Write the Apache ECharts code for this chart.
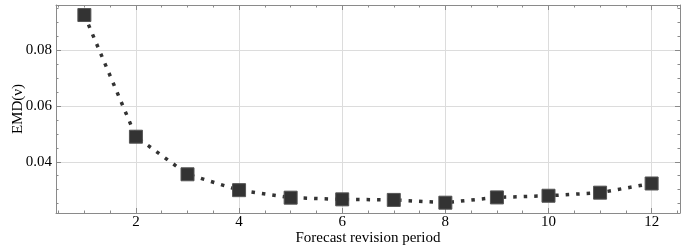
<!DOCTYPE html>
<html>
<head>
<meta charset="utf-8">
<script src="https://cdn.jsdelivr.net/npm/echarts@6/dist/echarts.min.js"></script>
<style>
  html, body { margin: 0; padding: 0; background: #fff; }
  #chart { width: 687px; height: 250px; }
</style>
</head>
<body>
<div id="chart"></div>
<script>
// forecast revision periods and EMD values
var periods = [1, 2, 3, 4, 5, 6, 7, 8, 9, 10, 11, 12];
var emd = [0.0927, 0.0490, 0.0355, 0.0298, 0.0271, 0.0265, 0.0263, 0.0253, 0.0272, 0.0278, 0.0289, 0.0322];

var xMajor = [2, 4, 6, 8, 10, 12];
var xMinor = [0.5, 1, 1.5, 2, 2.5, 3, 3.5, 4, 4.5, 5, 5.5, 6, 6.5, 7, 7.5, 8, 8.5, 9, 9.5, 10, 10.5, 11, 11.5, 12, 12.5];
var yMajor = [0.04, 0.06, 0.08];
var yMinor = [0.025, 0.03, 0.035, 0.04, 0.045, 0.05, 0.055, 0.06, 0.065, 0.07, 0.075, 0.08, 0.085, 0.09, 0.095];

var xMin = 0.45, xMax = 12.55;
var yMin = 0.0216, yMax = 0.0963;

var font = "Liberation Serif";
var frameColor = "#8a8a8a";

function tickAxis(pos, min, max, ticks, len, showLine) {
  return {
    type: "value",
    position: pos,
    min: min,
    max: max,
    axisLine: { show: showLine, lineStyle: { color: frameColor, width: 1 } },
    axisTick: { show: true, inside: true, length: len, customValues: ticks,
      lineStyle: { color: frameColor, width: 1 } },
    axisLabel: { show: false },
    splitLine: { show: false }
  };
}

var chart = echarts.init(document.getElementById("chart"));

var xData = periods.map(function (p, i) { return [p, emd[i]]; });

var option = {
  animation: false,
  backgroundColor: "#fff",
  grid: { left: 56, right: 7, top: 5, bottom: 37, outerBoundsMode: "none" },
  xAxis: [
    {
      type: "value",
      position: "bottom",
      min: xMin,
      max: xMax,
      name: "Forecast revision period",
      nameLocation: "middle",
      nameGap: 18,
      nameMoveOverlap: false,
      nameTextStyle: { fontFamily: font, fontSize: 15, color: "#000" },
      axisLine: { show: true, lineStyle: { color: frameColor, width: 1 } },
      axisTick: { show: true, inside: true, length: 5, customValues: xMajor,
        lineStyle: { color: frameColor, width: 1 } },
      axisLabel: { show: true, customValues: xMajor, margin: 2,
        fontFamily: font, fontSize: 15, color: "#000" },
      splitLine: { show: true, lineStyle: { color: "#dcdcdc", width: 1 } }
    },
    tickAxis("bottom", xMin, xMax, xMinor, 2.5, false),
    tickAxis("top", xMin, xMax, xMajor, 5, true),
    tickAxis("top", xMin, xMax, xMinor, 2.5, false)
  ],
  yAxis: [
    {
      type: "value",
      position: "left",
      min: yMin,
      max: yMax,
      name: "EMD(ν)",
      nameLocation: "middle",
      nameGap: 30,
      nameMoveOverlap: false,
      nameTextStyle: { fontFamily: font, fontSize: 15, color: "#000" },
      axisLine: { show: true, lineStyle: { color: frameColor, width: 1 } },
      axisTick: { show: true, inside: true, length: 5, customValues: yMajor,
        lineStyle: { color: frameColor, width: 1 } },
      axisLabel: { show: true, customValues: yMajor, margin: 4,
        fontFamily: font, fontSize: 15, color: "#000",
        formatter: function (v) { return v.toFixed(2); } },
      splitLine: { show: true, lineStyle: { color: "#dcdcdc", width: 1 } }
    },
    tickAxis("left", yMin, yMax, yMinor, 2.5, false),
    tickAxis("right", yMin, yMax, yMajor, 5, true),
    tickAxis("right", yMin, yMax, yMinor, 2.5, false)
  ],
  series: [
    {
      type: "line",
      xAxisIndex: 0,
      yAxisIndex: 0,
      data: xData,
      symbol: "rect",
      symbolSize: 13,
      lineStyle: { color: "#333", width: 3.5, type: [3.5, 7] },
      itemStyle: { color: "#333", borderColor: "#555", borderWidth: 1 },
      z: 3
    }
  ]
};

chart.setOption(option);
</script>
</body>
</html>
